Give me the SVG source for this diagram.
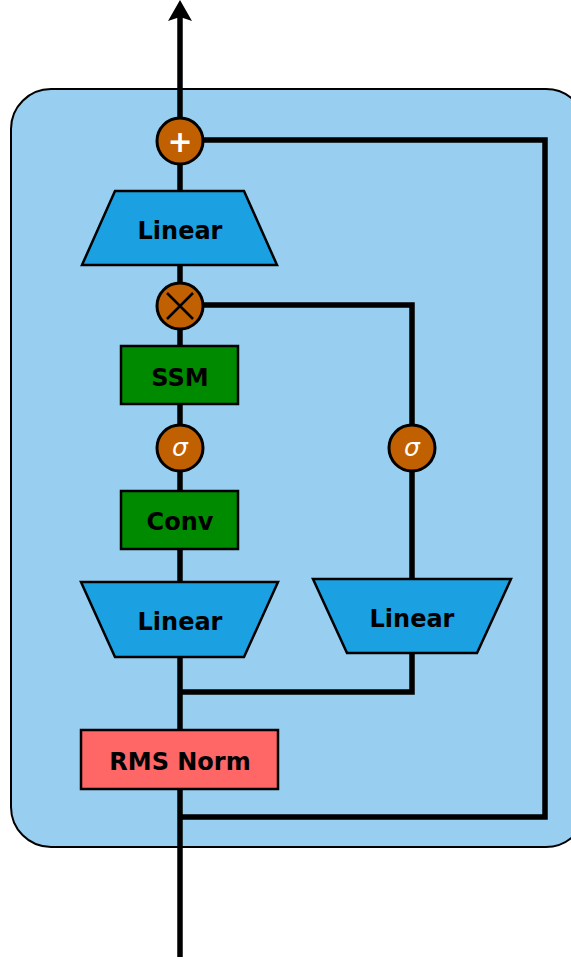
<svg xmlns="http://www.w3.org/2000/svg" width="571" height="960" viewBox="0 0 571 960">
  <defs>
    <style>
      .wire { fill: none; stroke: #000; stroke-width: 5.5; stroke-linejoin: miter; }
      .box { stroke: #000; stroke-width: 2.5; }
      .lin { fill: #1BA1E2; }
      .green { fill: #008A00; }
      .norm { fill: #FF6666; }
      .op { fill: #C06000; stroke: #000; stroke-width: 3; }
      .lbl { font-family: "DejaVu Sans", Verdana, sans-serif; font-weight: bold; font-size: 24px; fill: #000; text-anchor: middle; }
      .sig { font-family: "DejaVu Sans", Verdana, sans-serif; font-style: italic; font-size: 25px; fill: #fff; text-anchor: middle; }
      .pl { font-family: "DejaVu Sans", sans-serif; font-weight: bold; font-size: 30px; fill: #fff; text-anchor: middle; }
    </style>
  </defs>

  <!-- block container -->
  <rect id="block" x="11" y="89" width="575" height="758" rx="40" ry="40" fill="#98CEEF" stroke="#000" stroke-width="2"/>

  <!-- connectors -->
  <g id="connectors">
    <line class="wire" x1="180" y1="957" x2="180" y2="16"/>
    <path d="M180 0 L192 21 L180 17 L168 21 Z" fill="#000"/>
    <polyline class="wire" points="180,817 545,817 545,140 202,140"/>
    <polyline class="wire" points="202,305 412,305 412,580"/>
    <polyline class="wire" points="412,653 412,692 180,692"/>
  </g>

  <!-- residual add -->
  <g id="add">
    <circle class="op" cx="180" cy="141" r="23"/>
    <text class="pl" x="180" y="151.5">+</text>
  </g>

  <!-- output projection -->
  <g id="linear-out">
    <polygon class="box lin" points="115,191 244,191 277,265 82,265"/>
    <text class="lbl" x="180" y="239">Linear</text>
  </g>

  <!-- gating multiply -->
  <g id="mul">
    <circle class="op" cx="180" cy="306" r="23"/>
    <path d="M167 293 L193 319 M193 293 L167 319" stroke="#000" stroke-width="2.5"/>
  </g>

  <g id="ssm">
    <rect class="box green" x="121" y="346" width="117" height="58"/>
    <text class="lbl" x="180" y="386">SSM</text>
  </g>

  <g id="act-left">
    <circle class="op" cx="180" cy="448" r="23"/>
    <text class="sig" x="180" y="456">σ</text>
  </g>

  <g id="act-right">
    <circle class="op" cx="412" cy="448" r="23"/>
    <text class="sig" x="412" y="456">σ</text>
  </g>

  <g id="conv">
    <rect class="box green" x="121" y="491" width="117" height="58"/>
    <text class="lbl" x="180" y="530">Conv</text>
  </g>

  <!-- input projections -->
  <g id="linear-in-left">
    <polygon class="box lin" points="81,582 278,582 244,657 115,657"/>
    <text class="lbl" x="180" y="630">Linear</text>
  </g>

  <g id="linear-in-right">
    <polygon class="box lin" points="313,579 511,579 477,653 347,653"/>
    <text class="lbl" x="412" y="627">Linear</text>
  </g>

  <g id="rms-norm">
    <rect class="box norm" x="81" y="730" width="197" height="59"/>
    <text class="lbl" x="180" y="770">RMS Norm</text>
  </g>
</svg>
